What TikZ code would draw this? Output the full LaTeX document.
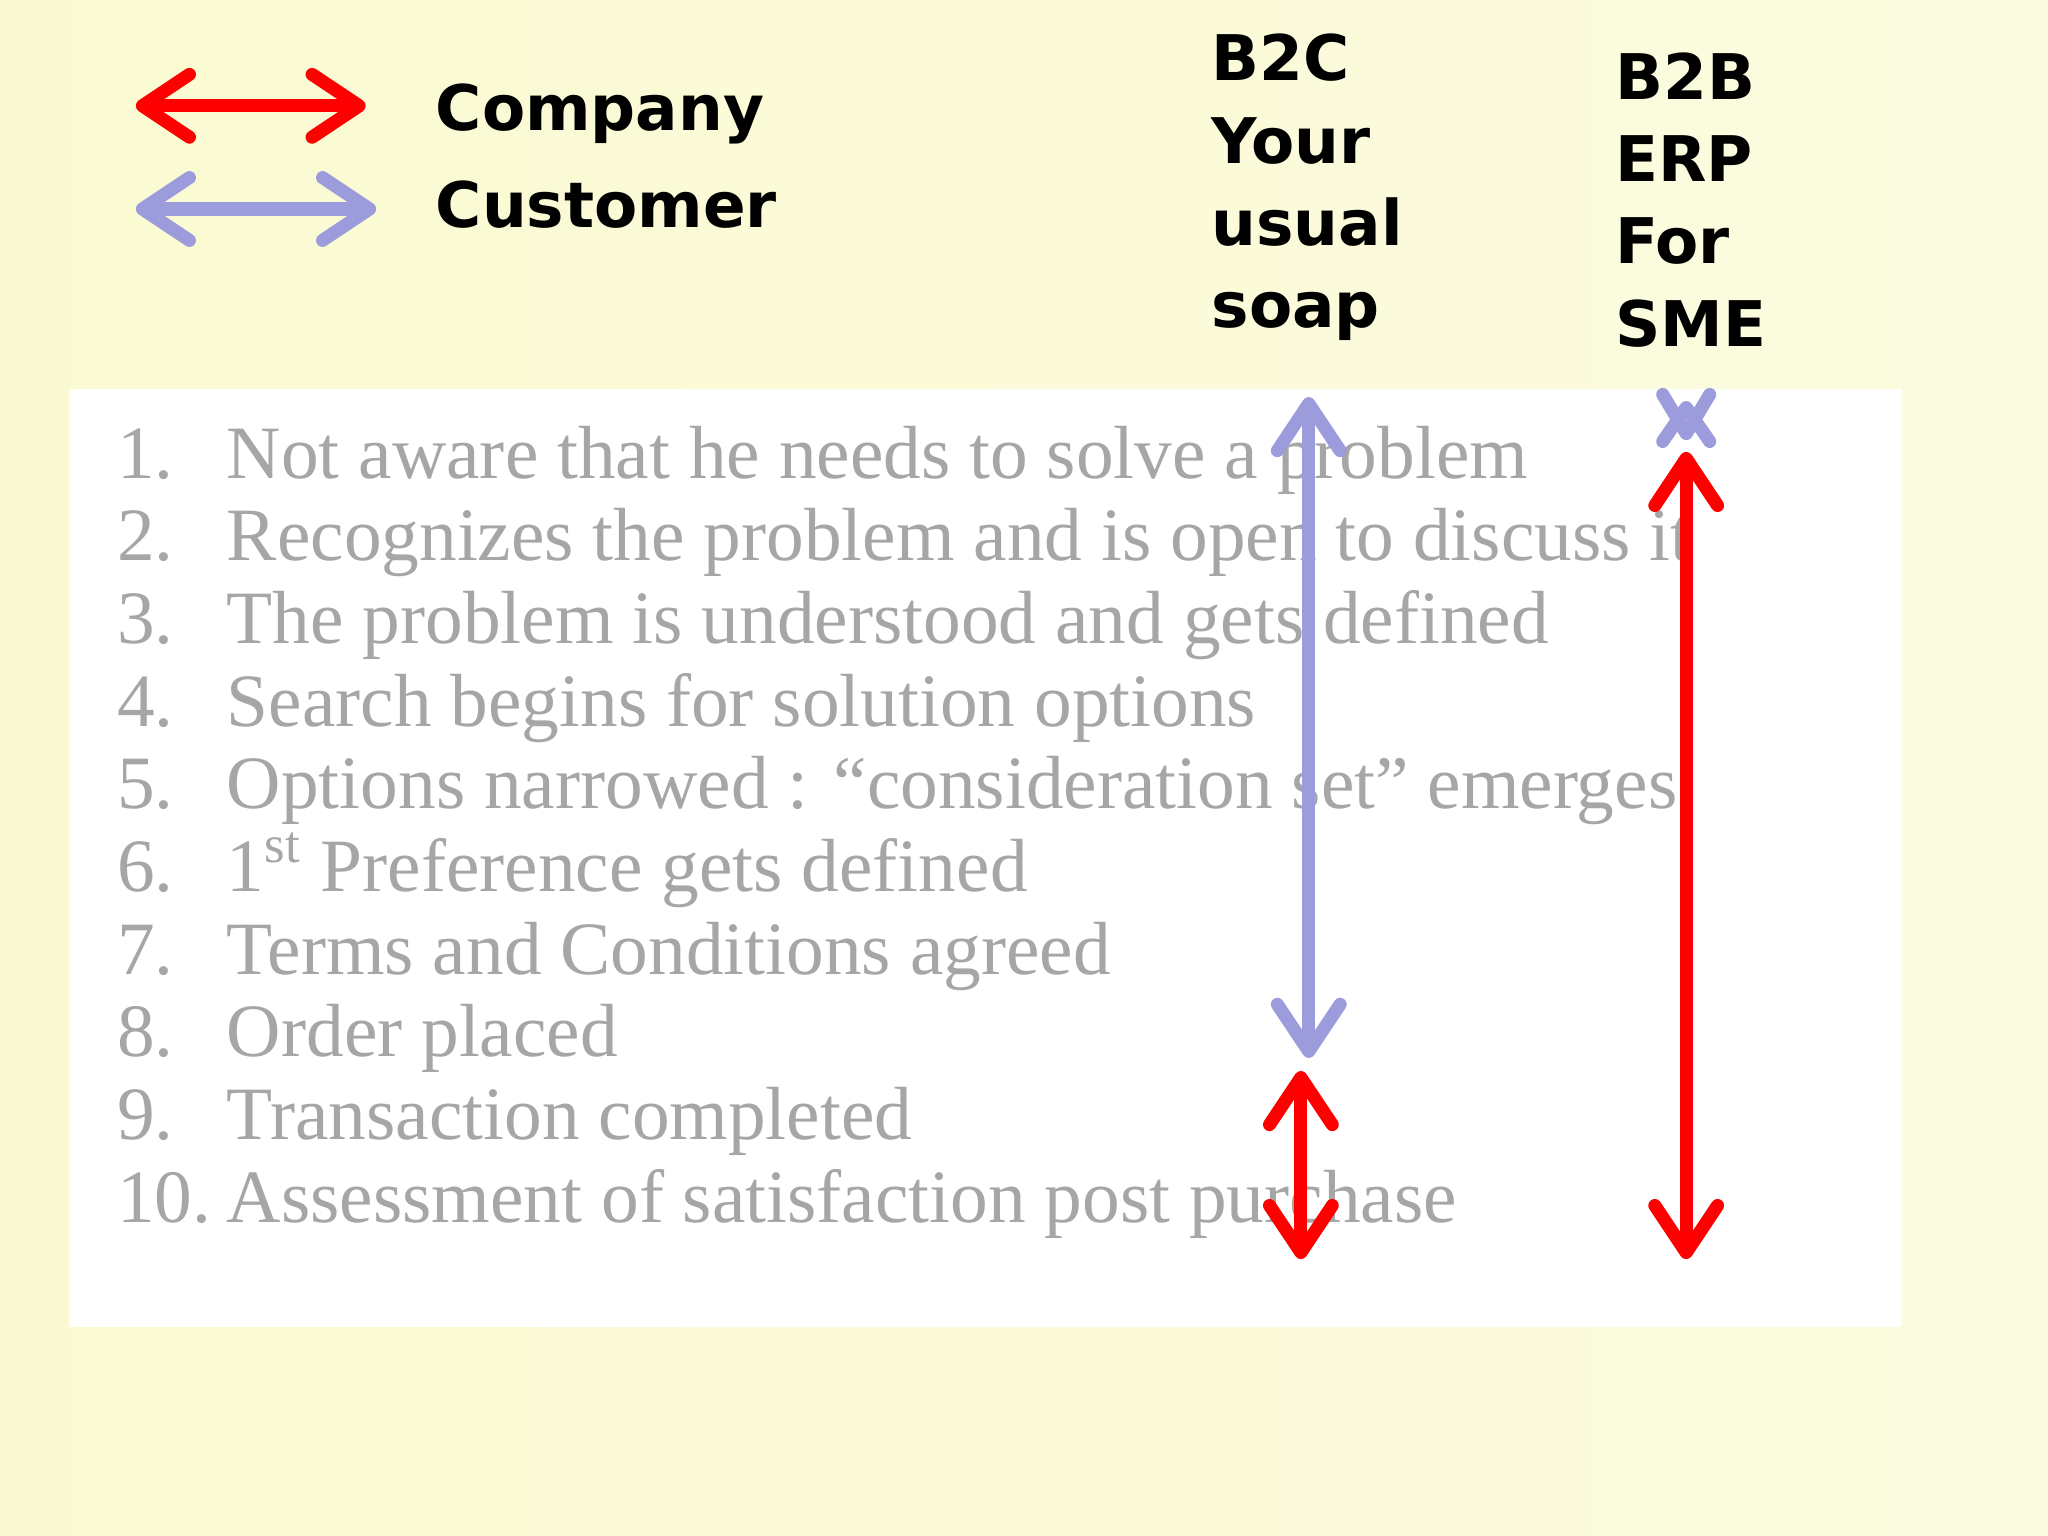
\documentclass[tikz,border=0pt]{standalone}
\usepackage{fontspec}
\setmainfont{Liberation Serif}
\newfontfamily\hdfont{DejaVu Sans}
\usetikzlibrary{arrows.meta}
\definecolor{bgyel}{HTML}{FAFAD2}
\definecolor{custblue}{HTML}{9C9CDC}
\definecolor{listgray}{HTML}{A6A6A6}
\tikzset{
  arr/.style={line width=0.1cm, line cap=round, {Straight Barb[length=0.36cm,width=0.48cm,line width=0.1cm,round]}-{Straight Barb[length=0.36cm,width=0.48cm,line width=0.1cm,round]}},
  comp/.style={arr, draw=red},
  cust/.style={arr, draw=custblue},
  hd/.style={font=\hdfont\bfseries\fontsize{13.7}{17}\selectfont, anchor=base west, inner sep=0},
  li/.style={font=\fontsize{16.4}{19}\selectfont, text=listgray, anchor=base west, inner sep=0},
}
\begin{document}
\begin{tikzpicture}[x=0.01cm,y=-0.01cm]
\shade[left color=bgyel, right color=bgyel!70!white] (0,0) rectangle (1568,1176);
\useasboundingbox (0,0) rectangle (1568,1176);
\fill[white] (53,298) rectangle (1456,1016);
% legend
\coordinate (l1a) at (104,81); \coordinate (l1b) at (280,81);
\coordinate (l2a) at (104,160); \coordinate (l2b) at (288,160);
\draw[comp] (l1a) -- (l1b);
\draw[cust] (l2a) -- (l2b);
\node[hd] (tc) at (333,100) {Company};
\node[hd] (tu) at (333,174) {Customer};
% headings
\foreach \t [count=\i] in {B2C,Your,usual,soap}
  \node[hd] (b2c\i) at (927,62+63*\i-63) {\t};
\foreach \t [count=\i] in {B2B,ERP,For,SME}
  \node[hd] (b2b\i) at (1236,76+63*\i-63) {\t};
% list
\foreach \t [count=\i] in {
 {Not aware that he needs to solve a problem},
 {Recognizes the problem and is open to discuss it},
 {The problem is understood and gets defined},
 {Search begins for solution options},
 {Options narrowed : ``consideration set'' emerges},
 {1\textsuperscript{st} Preference gets defined},
 {Terms and Conditions agreed},
 {Order placed},
 {Transaction completed},
 {Assessment of satisfaction post purchase}} {
  \node[li] (n\i) at (89,366+63.3*\i-63.3) {\i.};
  \node[li] (t\i) at (173,366+63.3*\i-63.3) {\t};
}
% arrows
\coordinate (c1a) at (1002,304); \coordinate (c1b) at (1002,810);
\coordinate (r1a) at (996,820); \coordinate (r1b) at (996,964);
\coordinate (r2a) at (1291,346); \coordinate (r2b) at (1291,964);
\draw[cust] (c1a) -- (c1b);
\draw[comp] (r1a) -- (r1b);
\draw[comp] (r2a) -- (r2b);
% B2B customer: two overlapping heads
\coordinate (x0) at (1291,322);
\coordinate (x1) at (1291,312);
\coordinate (x2) at (1291,332);
\draw[custblue, line width=0.1cm, line cap=round, line join=round]
  (1273,302) -- (x2) -- (1309,302)
  (1273,338) -- (x1) -- (1309,338);
\end{tikzpicture}
\end{document}
